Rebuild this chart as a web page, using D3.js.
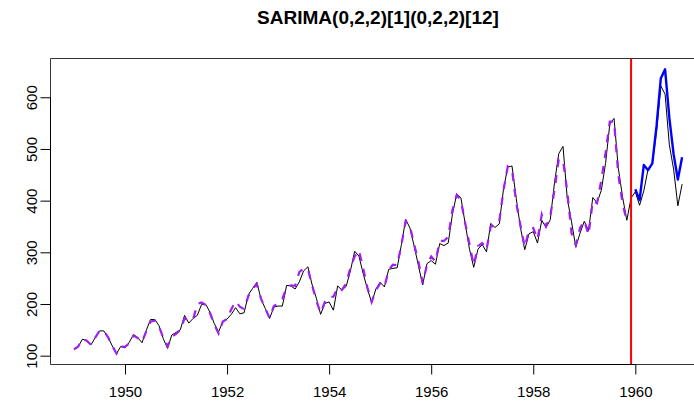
<!DOCTYPE html>
<html><head><meta charset="utf-8">
<script src="https://cdn.jsdelivr.net/npm/d3@7"></script>
<style>body{margin:0;background:#fff}svg{display:block}text{font-family:"Liberation Sans",Arial,sans-serif}</style>
</head><body>
<svg id="c" width="694" height="404"></svg>
<script>
const title = "SARIMA(0,2,2)[1](0,2,2)[12]";
const startYear = 1949;
const actual = [
112,118,132,129,121,135,148,148,136,119,104,118,
115,126,141,135,125,149,170,170,158,133,114,140,
145,150,178,163,172,178,199,199,184,162,146,166,
171,180,193,181,183,218,230,242,209,191,172,194,
196,196,236,235,229,243,264,272,237,211,180,201,
204,188,235,227,234,264,302,293,259,229,203,229,
242,233,267,269,270,315,364,347,312,274,237,278,
284,277,317,313,318,374,413,405,355,306,271,306,
315,301,356,348,355,422,465,467,404,347,305,336,
340,318,362,348,363,435,491,505,404,359,310,337,
360,342,406,396,420,472,548,559,463,407,362,405,
417,391,419,461,472,535,622,606,508,461,390,432];
const fitted = [
112,118,132,129,121,135,148,148,136,119,104,118,
117,124,139,134,127,147,166,168,156,135,118,137,
142,150,172,168,170,200,203,198,182,160,143,166,
171,190,205,195,190,215,230,238,210,191,173,196,
201,210,232,236,235,262,268,268,236,206,183,204,
214,214,232,227,240,270,292,304,269,232,204,227,
240,233,266,276,275,315,360,350,315,282,240,276,
292,282,322,322,330,382,411,400,356,316,275,312,
318,305,350,351,360,420,466,460,395,352,310,343,
347,325,373,350,370,421,480,478,418,337,314,347,
361,334,400,395,440,492,553,553,450,395,359];
const forecastStart = 1960;
const forecast = [422,401,469,459,472,545,637,654,560,490,441,484];
const splitTime = 1959 + 11/12;
const xTicks = [1950,1952,1954,1956,1958,1960];
const yTicks = [100,200,300,400,500,600];

const svg = d3.select("#c");
const L=50,R=706,T=58,B=364;
const x = d3.scaleLinear().domain([1948.530,1961.385]).range([L,R]);
const y = d3.scaleLinear().domain([83.9,676]).range([B,T]);

const act = actual.map((v,i)=>({t:startYear+i/12,v}));
const fit = fitted.map((v,i)=>({t:startYear+i/12,v}));
const fc = forecast.map((v,i)=>({t:forecastStart+i/12,v}));
const line = d3.line().x(d=>x(d.t)).y(d=>y(d.v));

svg.append("path").attr("d",line(act)).attr("fill","none").attr("stroke","#000").attr("stroke-width",1);
svg.append("path").attr("d",line(fit)).attr("fill","none").attr("stroke","#A020F0").attr("stroke-width",2.2).attr("stroke-dasharray","8,8");
svg.append("path").attr("d",line(fc)).attr("fill","none").attr("stroke","#0000FF").attr("stroke-width",2.4).attr("stroke-linejoin","round");
svg.append("line").attr("x1",x(splitTime)).attr("x2",x(splitTime)).attr("y1",T).attr("y2",B).attr("stroke","#FF0000").attr("stroke-width",2);

// box
svg.append("path").attr("d",`M${R},${T+0.5}H${L+0.5}V${B+0.5}H${R}`).attr("fill","none").attr("stroke","#333").attr("stroke-width",1);

const xa = svg.append("g").attr("transform",`translate(0,${B+0.5})`)
 .call(d3.axisBottom(x).tickValues(xTicks).tickFormat(d3.format("d")).tickSize(10).tickPadding(12));
xa.select(".domain").attr("d",`M${x(1950)},0H${x(1960)}`);
xa.selectAll("text").attr("font-size",15).attr("fill","#000").style("font-family","Liberation Sans, Arial, sans-serif");
xa.selectAll("line").attr("stroke","#000");

const ya = svg.append("g").attr("transform",`translate(${L+0.5},0)`)
 .call(d3.axisLeft(y).tickValues(yTicks).tickSize(10).tickFormat(d3.format("d")));
ya.select(".domain").attr("d",`M0,${y(100)}V${y(600)}`);
ya.selectAll("line").attr("stroke","#000");
ya.selectAll(".tick text").attr("transform",d=>`translate(-19,0) rotate(-90)`).attr("x",0).attr("dy","0.35em").attr("text-anchor","middle")
  .attr("font-size",15).attr("fill","#000").style("font-family","Liberation Sans, Arial, sans-serif");

svg.append("text").attr("x",(L+R)/2).attr("y",24).attr("text-anchor","middle").attr("font-weight","bold").attr("font-size",19).text(title);
</script>
</body></html>
